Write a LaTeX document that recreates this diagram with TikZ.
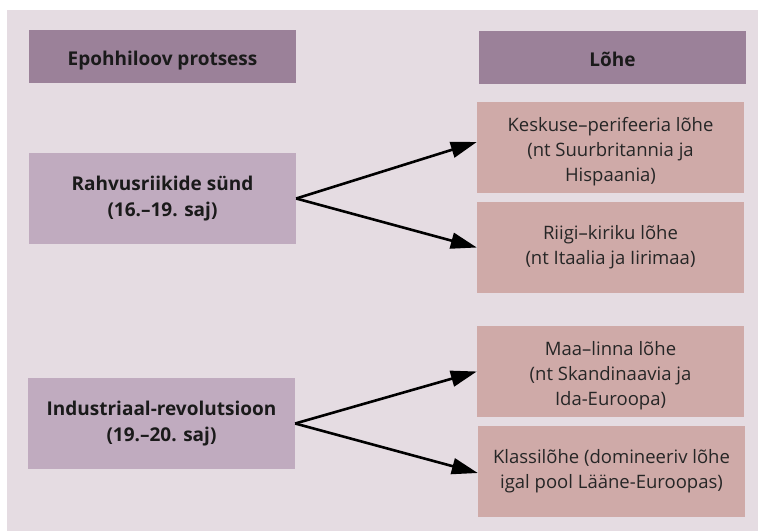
\documentclass[tikz,border=0pt]{standalone}
\usepackage{fontspec}
\setmainfont{Open Sans}
\usetikzlibrary{arrows.meta}
\definecolor{panel}{HTML}{E5DCE2}
\definecolor{headc}{HTML}{9B8199}
\definecolor{leftc}{HTML}{C0ABBF}
\definecolor{rightc}{HTML}{CFAAA8}
\definecolor{txt}{HTML}{1A1A1A}
\newcommand\myraise{\rule{0pt}{22.5pt}}
\begin{document}
\begin{tikzpicture}[x=1pt,y=-1pt,
  box/.style={inner sep=0pt,minimum width=267pt,minimum height=91pt,align=center,
    text=txt,font=\fontsize{18.5}{25}\selectfont},
  headbox/.style={box,fill=headc,minimum height=53pt,text height=18.5pt,text depth=0pt,
    font=\fontsize{19}{25}\selectfont\bfseries},
  procbox/.style={box,fill=leftc,font=\fontsize{19}{25.5}\selectfont\bfseries},
  cleavbox/.style={box,fill=rightc,text=black!85},
  arr/.style={line width=2.6pt,-{Triangle[length=26pt,width=16pt]}}]
\useasboundingbox (0,0) rectangle (758,531);
\fill[white] (0,0) rectangle (758,531);
\fill[panel] (7,10) rectangle (758,531);
\node[headbox] (h1) at (162.5,56.5) {Epohhiloov protsess};
\node[headbox] (h2) at (612.5,57.5) {Lõhe};
\node[procbox] (a) at (162.5,198.5) {Rahvusriikide sünd\\(16.–19. saj)};
\node[procbox] (b) at (161.5,423.5) {Industriaal-revolutsioon\\(19.–20. saj)};
\node[cleavbox] (r1) at (610.5,147.5) {\myraise Keskuse–perifeeria lõhe\\(nt Suurbritannia ja\\Hispaania)};
\node[cleavbox] (r2) at (610.5,247.5) {Riigi–kiriku lõhe\\(nt Itaalia ja Iirimaa)};
\node[cleavbox] (r3) at (610.5,371.5) {\myraise Maa–linna lõhe\\(nt Skandinaavia ja\\Ida-Euroopa)};
\node[cleavbox] (r4) at (611.5,471.5) {Klassilõhe (domineeriv lõhe\\igal pool Lääne-Euroopas)};
\draw[arr] (a.east) -- ([yshift=5.5pt]r1.west);
\draw[arr] (a.east) -- (r2.west);
\draw[arr] (b.east) -- (r3.west);
\draw[arr] (b.east) -- ([yshift=-1.5pt]r4.west);
\end{tikzpicture}
\end{document}
